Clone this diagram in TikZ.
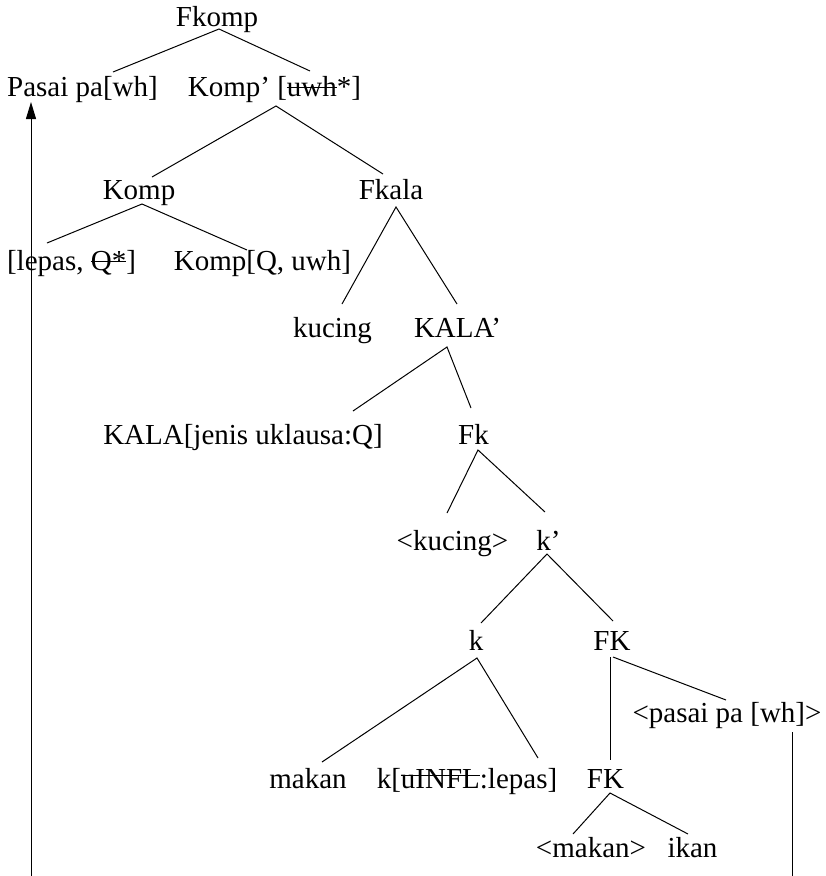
\documentclass[tikz,border=0pt]{standalone}
\usepackage{fontspec}
\setmainfont{Liberation Serif}
\usetikzlibrary{arrows.meta}

% text with a horizontal bar drawn through it at a given height
\newcommand{\struck}[2][8pt]{\setbox0=\hbox{#2}\rlap{\rule[#1]{\wd0}{0.9pt}}\box0}

\begin{document}
\begin{tikzpicture}[x=1pt,y=-1pt,
  lbl/.style={anchor=base,inner sep=0pt,font=\fontsize{29}{34}\selectfont},
  branch/.style={line width=1pt},
  move/.style={line width=1pt},
  every node/.style={lbl}]
\useasboundingbox (0,0) rectangle (826,876);

% labels of the tree
\node (fkomp)   at (217,26)   {Fkomp};
\node (pasai)   at (82.5,96)  {Pasai pa[wh]};
\node (kompbar) at (274.5,96) {Komp’ [\struck{uwh}*]};
\node (komp)    at (139,199)  {Komp};
\node (fkala)   at (391,199)  {Fkala};
\node (lepas)   at (71.5,270) {[lepas, \struck{Q*}]};
\node (kompq)   at (262.5,270){Komp[Q, uwh]};
\node (kucing)  at (332.5,337){kucing};
\node (kalabar) at (457.5,337){KALA’};
\node (kala)    at (243,444)  {KALA[jenis uklausa:Q]};
\node (fk)      at (473.5,444){Fk};
\node (kucingt) at (452.5,550){<kucing>};
\node (kbar)    at (548.5,550){k’};
\node (k)       at (476,650)  {k};
\node (fkup)    at (612,650)  {FK};
\node (pasait)  at (727,722)  {<pasai pa [wh]>};
\node (makan)   at (308,788)  {makan};
\node (kinfl)   at (467,788)  {k[\struck[12.5pt]{uINFL}:lepas]};
\node (fklow)   at (605.5,788){FK};
\node (makant)  at (591,857)  {<makan>};
\node (ikan)    at (692.5,857){ikan};

% branches
\draw[branch] ([shift={(30.5,-24)}]pasai.base) -- ([shift={(2,3)}]fkomp.base) -- ([shift={(35.5,-25)}]kompbar.base);
\draw[branch] ([shift={(13,-22)}]komp.base) -- ([shift={(1.5,10)}]kompbar.base) -- ([shift={(-8,-25)}]fkala.base);
\draw[branch] ([shift={(-24.5,-27)}]lepas.base) -- ([shift={(3,5)}]komp.base) -- ([shift={(-15.5,-20)}]kompq.base);
\draw[branch] ([shift={(9.5,-33)}]kucing.base) -- ([shift={(5,8)}]fkala.base) -- ([shift={(-0.5,-33)}]kalabar.base);
\draw[branch] ([shift={(110,-33)}]kala.base) -- ([shift={(-10.5,10)}]kalabar.base) -- ([shift={(-2.5,-36)}]fk.base);
\draw[branch] ([shift={(-5.5,-37)}]kucingt.base) -- ([shift={(4.5,6)}]fk.base) -- ([shift={(-3.5,-38)}]kbar.base);
\draw[branch] ([shift={(5,-27)}]k.base) -- ([shift={(-1.5,4)}]kbar.base) -- ([shift={(1,-29)}]fkup.base);
\draw[branch] ([shift={(14,-26)}]makan.base) -- ([shift={(1,8)}]k.base) -- ([shift={(71,-30)}]kinfl.base);
\draw[branch] ([shift={(-2,7)}]fkup.base) -- ([shift={(4.5,-28)}]fklow.base);
\draw[branch] ([shift={(1,7)}]fkup.base) -- ([shift={(-1,-22)}]pasait.base);
\draw[branch] ([shift={(-18,-23)}]makant.base) -- ([shift={(4.5,5)}]fklow.base) -- ([shift={(-4.5,-23)}]ikan.base);

% movement path of the wh-phrase
\coordinate (bottomR) at (792,876);
\coordinate (bottomL) at (31,876);
\draw[move] ([shift={(65,10)}]pasait.base) -- (bottomR);
\draw[move,-{Triangle[length=17pt,width=10pt]}] (bottomL) -- ([shift={(-51.5,6)}]pasai.base);
\end{tikzpicture}
\end{document}
